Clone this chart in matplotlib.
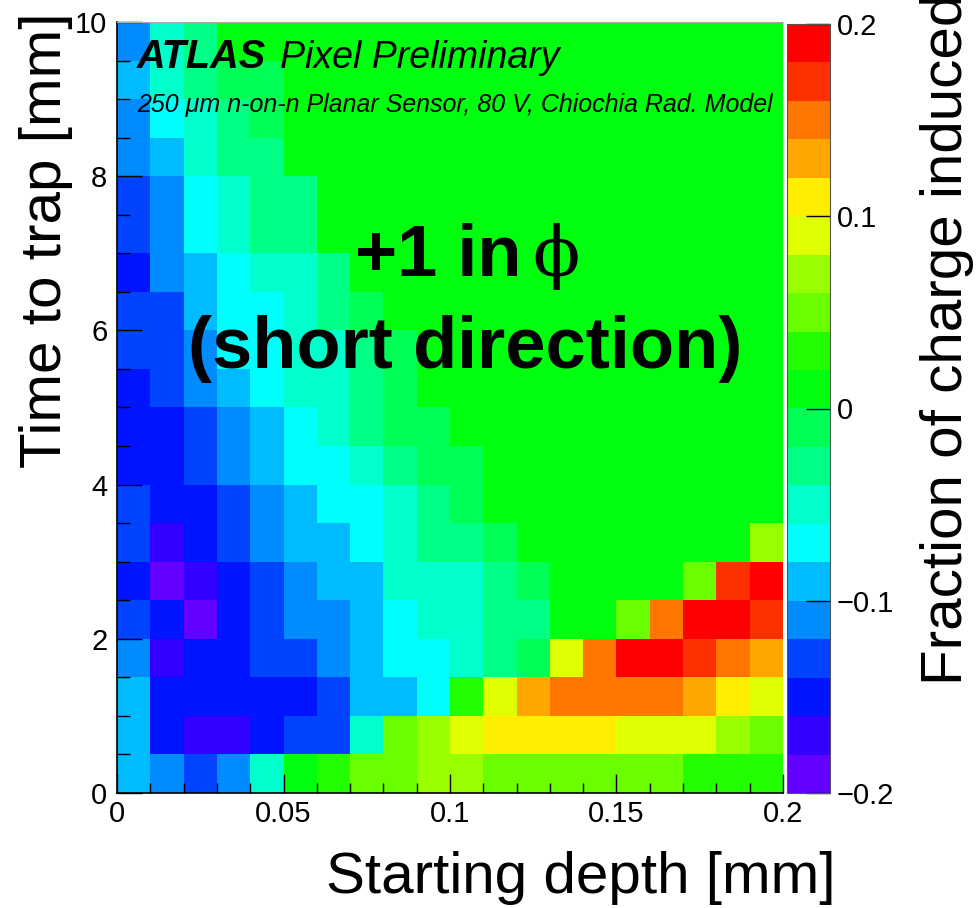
import colorsys
import numpy as np
import matplotlib
matplotlib.use("Agg")
import matplotlib.pyplot as plt
from matplotlib.colors import ListedColormap, BoundaryNorm
from matplotlib.ticker import FixedLocator, FixedFormatter, MultipleLocator

# --- DATA ---
# 20 x 20 bins: starting depth 0..0.2 mm, time to trap 0..10 mm
depth_edges = np.linspace(0.0, 0.2, 21)
time_edges = np.linspace(0.0, 10.0, 21)

# fraction of charge induced, rows listed from the TOP (time 9.5-10) down to time 0-0.5
frac_rows = [
    [-0.11, -0.05, -0.03, 0.01, 0.01, 0.01, 0.01, 0.01, 0.01, 0.01, 0.01, 0.01, 0.01, 0.01, 0.01, 0.01, 0.01, 0.01, 0.01, 0.01],
    [-0.09, -0.05, -0.03, -0.01, -0.01, 0.01, 0.01, 0.01, 0.01, 0.01, 0.01, 0.01, 0.01, 0.01, 0.01, 0.01, 0.01, 0.01, 0.01, 0.01],
    [-0.11, -0.07, -0.05, -0.03, -0.01, 0.01, 0.01, 0.01, 0.01, 0.01, 0.01, 0.01, 0.01, 0.01, 0.01, 0.01, 0.01, 0.01, 0.01, 0.01],
    [-0.11, -0.09, -0.05, -0.03, -0.03, 0.01, 0.01, 0.01, 0.01, 0.01, 0.01, 0.01, 0.01, 0.01, 0.01, 0.01, 0.01, 0.01, 0.01, 0.01],
    [-0.13, -0.11, -0.07, -0.05, -0.03, -0.03, 0.01, 0.01, 0.01, 0.01, 0.01, 0.01, 0.01, 0.01, 0.01, 0.01, 0.01, 0.01, 0.01, 0.01],
    [-0.13, -0.11, -0.07, -0.05, -0.03, -0.03, 0.01, 0.01, 0.01, 0.01, 0.01, 0.01, 0.01, 0.01, 0.01, 0.01, 0.01, 0.01, 0.01, 0.01],
    [-0.15, -0.11, -0.09, -0.07, -0.05, -0.05, -0.03, 0.01, 0.01, 0.01, 0.01, 0.01, 0.01, 0.01, 0.01, 0.01, 0.01, 0.01, 0.01, 0.01],
    [-0.13, -0.13, -0.09, -0.07, -0.07, -0.05, -0.03, -0.01, 0.01, 0.01, 0.01, 0.01, 0.01, 0.01, 0.01, 0.01, 0.01, 0.01, 0.01, 0.01],
    [-0.13, -0.13, -0.11, -0.07, -0.07, -0.05, -0.05, -0.03, -0.01, 0.01, 0.01, 0.01, 0.01, 0.01, 0.01, 0.01, 0.01, 0.01, 0.01, 0.01],
    [-0.15, -0.13, -0.11, -0.09, -0.07, -0.05, -0.05, -0.03, -0.01, 0.01, 0.01, 0.01, 0.01, 0.01, 0.01, 0.01, 0.01, 0.01, 0.01, 0.01],
    [-0.15, -0.15, -0.13, -0.11, -0.09, -0.07, -0.05, -0.03, -0.01, -0.01, 0.01, 0.01, 0.01, 0.01, 0.01, 0.01, 0.01, 0.01, 0.01, 0.01],
    [-0.15, -0.15, -0.13, -0.11, -0.09, -0.07, -0.07, -0.05, -0.03, -0.01, -0.01, 0.01, 0.01, 0.01, 0.01, 0.01, 0.01, 0.01, 0.01, 0.01],
    [-0.13, -0.15, -0.15, -0.13, -0.11, -0.09, -0.07, -0.07, -0.05, -0.03, -0.01, 0.01, 0.01, 0.01, 0.01, 0.01, 0.01, 0.01, 0.01, 0.01],
    [-0.13, -0.17, -0.15, -0.13, -0.11, -0.09, -0.09, -0.07, -0.05, -0.03, -0.03, -0.01, 0.01, 0.01, 0.01, 0.01, 0.01, 0.01, 0.01, 0.07],
    [-0.15, -0.19, -0.17, -0.15, -0.13, -0.11, -0.09, -0.09, -0.05, -0.05, -0.05, -0.03, -0.01, 0.01, 0.01, 0.01, 0.01, 0.05, 0.17, 0.19],
    [-0.13, -0.15, -0.19, -0.15, -0.13, -0.11, -0.11, -0.09, -0.07, -0.05, -0.05, -0.03, -0.03, 0.01, 0.01, 0.05, 0.15, 0.19, 0.19, 0.17],
    [-0.11, -0.17, -0.15, -0.15, -0.13, -0.13, -0.11, -0.09, -0.07, -0.07, -0.05, -0.03, -0.01, 0.09, 0.15, 0.19, 0.19, 0.17, 0.15, 0.13],
    [-0.09, -0.15, -0.15, -0.15, -0.15, -0.15, -0.13, -0.09, -0.09, -0.07, 0.03, 0.09, 0.13, 0.15, 0.15, 0.15, 0.15, 0.13, 0.11, 0.09],
    [-0.09, -0.15, -0.17, -0.17, -0.15, -0.13, -0.13, -0.05, 0.05, 0.07, 0.09, 0.11, 0.11, 0.11, 0.11, 0.09, 0.09, 0.09, 0.07, 0.05],
    [-0.09, -0.11, -0.13, -0.11, -0.05, 0.01, 0.03, 0.05, 0.05, 0.07, 0.07, 0.05, 0.05, 0.05, 0.05, 0.05, 0.05, 0.03, 0.03, 0.03],
]

x_ticks = [0.0, 0.05, 0.1, 0.15, 0.2]
x_tick_labels = ["0", "0.05", "0.1", "0.15", "0.2"]
y_ticks = [0, 2, 4, 6, 8, 10]
z_ticks = [-0.2, -0.1, 0.0, 0.1, 0.2]
z_tick_labels = ["\u22120.2", "\u22120.1", "0", "0.1", "0.2"]

# --- ROOT "pretty" palette (50 hues) sampled by 20 contour levels ---
n_levels = 20
colors = []
for lev in range(n_levels):
    idx = int((lev + 0.99) * 50 / n_levels)
    hue = 0.0 if idx >= 49 else 280.0 - (idx + 1) * 5.6
    colors.append(colorsys.hls_to_rgb(hue / 360.0, 0.5, 1.0))
cmap = ListedColormap(colors)
norm = BoundaryNorm(np.linspace(-0.2, 0.2, n_levels + 1), n_levels)

plt.rcParams["font.family"] = ["Liberation Sans", "DejaVu Sans"]

W, H = 979, 908
fig = plt.figure(figsize=(W / 100, H / 100), dpi=100)


def fx(px):
    return px / W


def fy(py):
    return 1 - py / H


ax = fig.add_axes([fx(117), fy(793), fx(783) - fx(117), fy(22) - fy(793)])
cax = fig.add_axes([fx(787), fy(793), fx(830) - fx(787), fy(24) - fy(793)])

Z = np.flipud(np.array(frac_rows))
mesh = ax.pcolormesh(depth_edges, time_edges, Z, cmap=cmap, norm=norm)
ax.set_xlim(0, 0.2)
ax.set_ylim(0, 10)

ax.xaxis.set_major_locator(FixedLocator(x_ticks))
ax.xaxis.set_major_formatter(FixedFormatter(x_tick_labels))
ax.xaxis.set_minor_locator(MultipleLocator(0.01))
ax.yaxis.set_major_locator(FixedLocator(y_ticks))
ax.yaxis.set_minor_locator(MultipleLocator(0.5))
ax.tick_params(axis="x", which="major", direction="in", length=14, width=1, labelsize=21, pad=5)
ax.tick_params(axis="x", which="minor", direction="in", length=7, width=1)
ax.tick_params(axis="y", which="major", direction="in", length=18, width=1, labelsize=21, pad=7)
ax.tick_params(axis="y", which="minor", direction="in", length=9, width=1)
ax.spines["right"].set_visible(False)
ax.spines["top"].set_color("#aaaaaa")
ax.spines["top"].set_linewidth(0.8)
ax.spines["left"].set_linewidth(1.2)
ax.spines["bottom"].set_linewidth(1.2)

cbar = fig.colorbar(mesh, cax=cax, ticks=z_ticks)
cbar.ax.set_yticklabels(z_tick_labels)
cbar.outline.set_linewidth(0.8)
cbar.outline.set_edgecolor("#555555")
cax.tick_params(axis="y", which="major", direction="in", length=17, width=1, labelsize=21, pad=5)
cax.minorticks_off()

# axis titles (the colour-bar title runs off the top edge, as in the original)
fig.text(fx(835), fy(893), "Starting depth [mm]", ha="right", va="baseline", fontsize=42)
fig.text(fx(46), fy(12), "Time to trap [mm]", rotation=90, ha="center", va="top", fontsize=42)
fig.text(fx(947), fy(685), "Fraction of charge induced", rotation=90, ha="center", va="bottom", fontsize=42)

# labels inside the frame
fig.text(fx(137), fy(68), "ATLAS", fontsize=28.5, fontweight="bold", fontstyle="italic", va="baseline")
fig.text(fx(280), fy(68), "Pixel Preliminary", fontsize=27, fontstyle="italic", va="baseline")
fig.text(fx(137), fy(112), "250 \u03bcm n-on-n Planar Sensor, 80 V, Chiochia Rad. Model",
         fontsize=18, fontstyle="italic", va="baseline")
fig.text(fx(355), fy(276), "+1 in", fontsize=52, fontweight="bold", va="baseline", ha="left")
fig.text(fx(556), fy(276), "\u03d5", fontsize=50, family=["DejaVu Serif"], va="baseline", ha="center")
fig.text(fx(465), fy(368), "(short direction)", fontsize=52, fontweight="bold", va="baseline", ha="center")

fig.savefig("out.png", dpi=100)
